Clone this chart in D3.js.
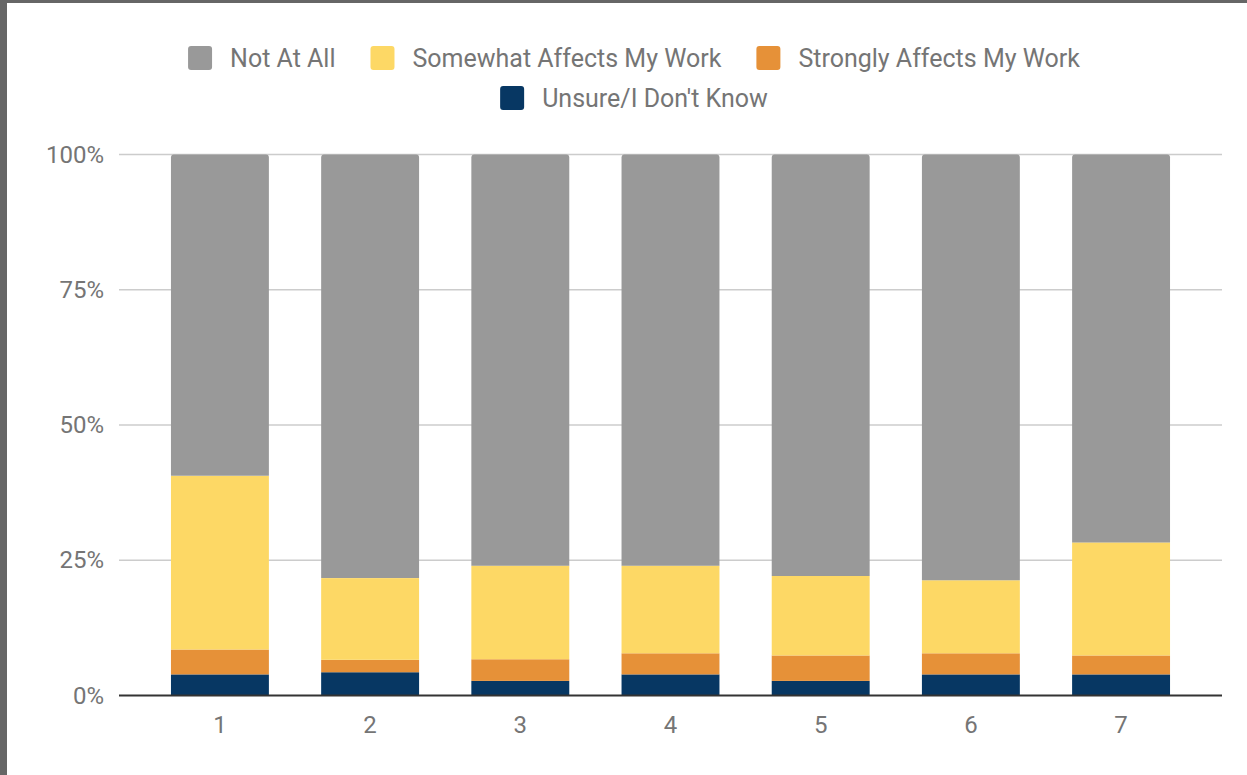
<!DOCTYPE html>
<html>
<head>
<meta charset="utf-8">
<script src="https://cdn.jsdelivr.net/npm/d3@7"></script>
<style>
  html, body { margin: 0; padding: 0; background: #fff; }
  svg { display: block; font-family: Roboto, "Noto Sans", sans-serif; }
</style>
</head>
<body>
<svg id="chart" width="1247" height="775"></svg>
<script>
// Categories along the x axis
const categories = ["1", "2", "3", "4", "5", "6", "7"];

// Series names, bottom of the stack first
const seriesNames = ["Unsure/I Don't Know", "Strongly Affects My Work", "Somewhat Affects My Work", "Not At All"];

// Share of responses per category (percent)
const unsure   = [3.9, 4.3, 2.7, 3.9, 2.7, 3.9, 3.9];
const strongly = [4.6, 2.3, 4.0, 3.9, 4.7, 3.9, 3.5];
const somewhat = [32.1, 15.1, 17.3, 16.2, 14.7, 13.5, 20.9];
const notAtAll = [59.4, 78.3, 76.0, 76.0, 77.9, 78.7, 71.7];

// Y axis tick values and labels
const yTicks = [0, 25, 50, 75, 100];
const yTickLabels = ["0%", "25%", "50%", "75%", "100%"];

// Legend order as shown at the top
const legendOrder = ["Not At All", "Somewhat Affects My Work", "Strongly Affects My Work", "Unsure/I Don't Know"];

const colors = {
  "Not At All": "#999999",
  "Somewhat Affects My Work": "#fdd865",
  "Strongly Affects My Work": "#e69138",
  "Unsure/I Don't Know": "#073763"
};

const seriesValues = {
  "Unsure/I Don't Know": unsure,
  "Strongly Affects My Work": strongly,
  "Somewhat Affects My Work": somewhat,
  "Not At All": notAtAll
};

const rows = categories.map((c, i) => {
  const r = { cat: c };
  seriesNames.forEach(s => { r[s] = seriesValues[s][i]; });
  return r;
});

const svg = d3.select("#chart");
const W = 1247, H = 775;

// Frame edges on the left and top
svg.append("rect").attr("x", 0).attr("y", 0).attr("width", W).attr("height", H).attr("fill", "#fff");
svg.append("rect").attr("x", 0).attr("y", 0).attr("width", 7).attr("height", H).attr("fill", "#666");
svg.append("rect").attr("x", 0).attr("y", 0).attr("width", W).attr("height", 3).attr("fill", "#666");

const plot = { left: 119, right: 1222, top: 154.5, bottom: 695.5 };

const x = d3.scaleBand()
  .domain(categories)
  .range([plot.left, plot.right])
  .paddingInner(0.348)
  .paddingOuter(0.346);

const y = d3.scaleLinear()
  .domain([0, 100])
  .range([plot.bottom, plot.top]);

const textColor = "#757575";

// Horizontal gridlines
svg.append("g")
  .selectAll("line")
  .data(yTicks.filter(t => t > 0))
  .join("line")
  .attr("x1", plot.left).attr("x2", plot.right)
  .attr("y1", d => y(d)).attr("y2", d => y(d))
  .attr("stroke", "#cccccc").attr("stroke-width", 1.5);

// Y axis labels
const yAxis = d3.axisLeft(y)
  .tickValues(yTicks)
  .tickFormat((d, i) => yTickLabels[i])
  .tickSize(0)
  .tickPadding(15);
const yG = svg.append("g").attr("transform", `translate(${plot.left},0)`).call(yAxis);
yG.select(".domain").remove();
yG.selectAll("text")
  .attr("fill", textColor)
  .attr("font-size", 24)
  .attr("font-family", "Roboto, sans-serif");

// Stacked bars
const stack = d3.stack().keys(seriesNames);
const stacked = stack(rows);
const topKey = seriesNames[seriesNames.length - 1];
const r = 3;

stacked.forEach(layer => {
  const g = svg.append("g").attr("fill", colors[layer.key]);
  layer.forEach((seg, i) => {
    const x0 = x(rows[i].cat), bw = x.bandwidth();
    const yTop = y(seg[1]), yBot = y(seg[0]);
    if (layer.key === topKey) {
      const p = d3.path();
      p.moveTo(x0, yBot);
      p.lineTo(x0, yTop + r);
      p.arcTo(x0, yTop, x0 + r, yTop, r);
      p.lineTo(x0 + bw - r, yTop);
      p.arcTo(x0 + bw, yTop, x0 + bw, yTop + r, r);
      p.lineTo(x0 + bw, yBot);
      p.closePath();
      g.append("path").attr("d", p.toString());
    } else {
      g.append("rect")
        .attr("x", x0).attr("y", yTop)
        .attr("width", bw).attr("height", yBot - yTop);
    }
  });
});

// Baseline
svg.append("line")
  .attr("x1", plot.left).attr("x2", plot.right)
  .attr("y1", y(0)).attr("y2", y(0))
  .attr("stroke", "#333333").attr("stroke-width", 2);

// X axis labels
const xAxis = d3.axisBottom(x).tickSize(0).tickPadding(20);
const xG = svg.append("g").attr("transform", `translate(0,${plot.bottom})`).call(xAxis);
xG.select(".domain").remove();
xG.selectAll("text")
  .attr("fill", textColor)
  .attr("font-size", 24)
  .attr("font-family", "Roboto, sans-serif");

// Legend: two centered rows
const legendRows = [legendOrder.slice(0, 3), legendOrder.slice(3)];
const legendCenter = 634;
const sw = 24, swGap = 18, itemGap = 35;
legendRows.forEach((items, ri) => {
  const cy = 58 + ri * 40;
  const g = svg.append("g");
  let cx = 0;
  items.forEach(name => {
    const item = g.append("g").attr("transform", `translate(${cx},0)`);
    item.append("rect")
      .attr("x", 0).attr("y", cy - sw / 2)
      .attr("width", sw).attr("height", sw)
      .attr("rx", 3)
      .attr("fill", colors[name]);
    const t = item.append("text")
      .attr("x", sw + swGap).attr("y", cy)
      .attr("dy", "0.35em")
      .attr("font-size", 25)
      .attr("fill", textColor)
      .text(name);
    cx += sw + swGap + t.node().getComputedTextLength() + itemGap;
  });
  const total = cx - itemGap;
  g.attr("transform", `translate(${legendCenter - total / 2},0)`);
});
</script>
</body>
</html>
